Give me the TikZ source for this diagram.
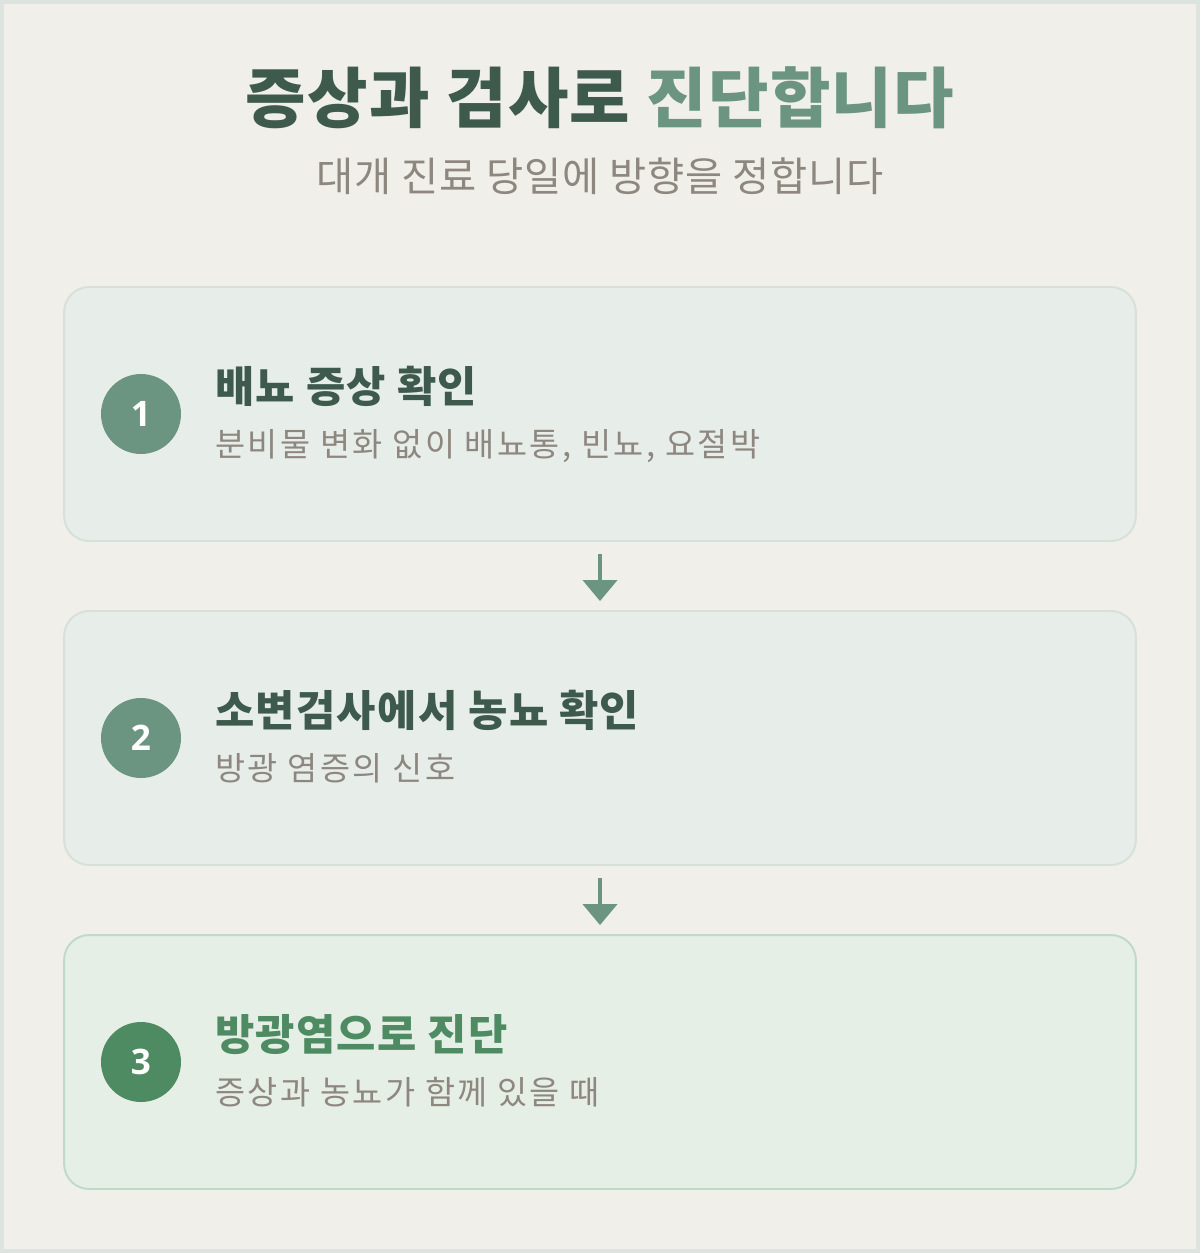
\documentclass[tikz,border=0pt]{standalone}
\usepackage{fontspec}
\setmainfont{Noto Sans CJK KR}
\newfontfamily\numfont{Open Sans}
\usetikzlibrary{arrows.meta}
\definecolor{mypagecolor}{HTML}{F0EFEA}
\definecolor{myframecolor}{HTML}{DDE4DF}
\definecolor{mycardcolor}{HTML}{E7EDE8}
\definecolor{mycardline}{HTML}{D7E1D9}
\definecolor{mylastcolor}{HTML}{E5EFE6}
\definecolor{mylastline}{HTML}{BFDAC7}
\definecolor{mydarkcolor}{HTML}{3D5A4D}
\definecolor{mysagecolor}{HTML}{6B9580}
\definecolor{mygreencolor}{HTML}{4E8B62}
\definecolor{mygraycolor}{HTML}{8E8780}

\begin{document}
\begin{tikzpicture}[x=0.02cm, y=-0.02cm,
  card/.style={draw=mycardline, fill=mycardcolor, line width=1.1pt, rounded corners=0.5cm, minimum width=21.44cm, minimum height=5.08cm},
  numdot/.style={circle, fill=mysagecolor, minimum size=1.6cm, inner sep=0pt, text=white, font=\numfont\bfseries\fontsize{20pt}{20pt}\selectfont},
  headtext/.style={anchor=base west, inner sep=0pt, text=mydarkcolor, font=\addfontfeature{LetterSpace=3}\bfseries\fontsize{24.3pt}{24.3pt}\selectfont},
  desctext/.style={anchor=base west, inner sep=0pt, text=mygraycolor, font=\addfontfeature{LetterSpace=7.5}\fontsize{18.6pt}{18.6pt}\selectfont},
  flow/.style={draw=mysagecolor, line width=2.3pt, -{Triangle[width=0.68cm, length=0.42cm]}, shorten <=0.24cm, shorten >=0.18cm}]%
% page and frame
\fill[myframecolor] (0,0) rectangle (1200,1253);%
\fill[mypagecolor] (4,4) rectangle (1196,1249);%
% title
\node[anchor=base, inner sep=0pt, font=\addfontfeature{LetterSpace=2}\bfseries\fontsize{37.4pt}{37.4pt}\selectfont] (title) at (600,123) {{\color{mydarkcolor}증상과 검사로 }{\color{mysagecolor}진단합니다}};%
\node[anchor=base, inner sep=0pt, text=mygraycolor, font=\addfontfeature{LetterSpace=2}\fontsize{23pt}{23pt}\selectfont] (subtitle) at (600,192) {대개 진료 당일에 방향을 정합니다};%
% step cards
\node[card] (card1) at (600,414) {};%
\node[card] (card2) at (600,738) {};%
\node[card, draw=mylastline, fill=mylastcolor] (card3) at (600,1062) {};%
\node[numdot] (num1) at (141,414) {1};%
\node[numdot] (num2) at (141,738) {2};%
\node[numdot, fill=mygreencolor] (num3) at (141,1062) {3};%
\node[headtext] (head1) at (215,402) {배뇨 증상 확인};%
\node[headtext] (head2) at (215,726) {소변검사에서 농뇨 확인};%
\node[headtext, text=mygreencolor] (head3) at (215,1050) {방광염으로 진단};%
\node[desctext] (desc1) at (215,456) {분비물 변화 없이 배뇨통, 빈뇨, 요절박};%
\node[desctext] (desc2) at (215,780) {방광 염증의 신호};%
\node[desctext] (desc3) at (215,1104) {증상과 농뇨가 함께 있을 때};%
% arrows
\draw[flow] (card1.south) -- (card2.north);%
\draw[flow] (card2.south) -- (card3.north);%
\end{tikzpicture}
\end{document}
